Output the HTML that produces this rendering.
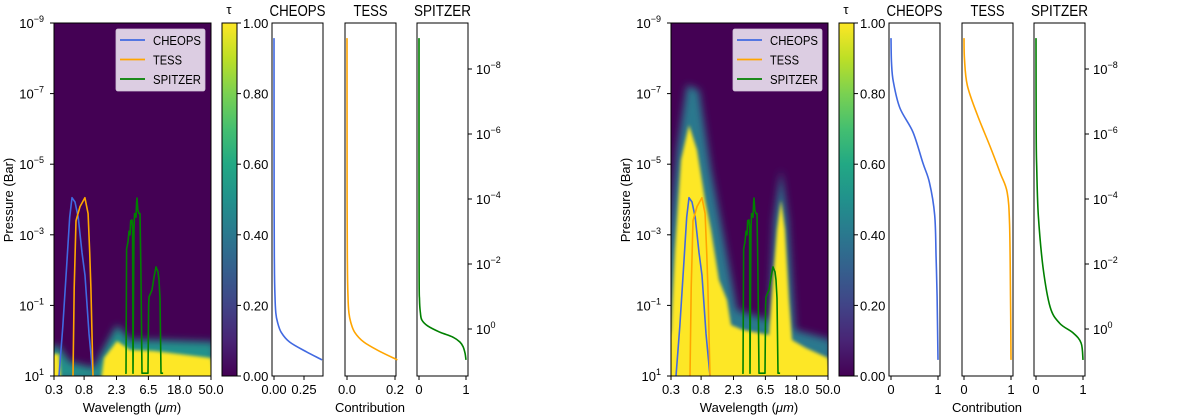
<!DOCTYPE html>
<html><head><meta charset="utf-8"><style>
body{margin:0;background:#fff;}
svg{display:block;font-family:"Liberation Sans","DejaVu Sans",sans-serif;}
</style></head><body>
<svg id="fig" width="1200" height="420" viewBox="0 0 1200 420" xmlns="http://www.w3.org/2000/svg">
<defs>
<linearGradient id="viridis" x1="0" y1="1" x2="0" y2="0">
<stop offset="0" stop-color="#440154"/><stop offset="0.1" stop-color="#482475"/><stop offset="0.2" stop-color="#414487"/><stop offset="0.3" stop-color="#355f8d"/><stop offset="0.4" stop-color="#2a788e"/><stop offset="0.5" stop-color="#21918c"/><stop offset="0.6" stop-color="#22a884"/><stop offset="0.7" stop-color="#44bf70"/><stop offset="0.8" stop-color="#7ad151"/><stop offset="0.9" stop-color="#bddf26"/><stop offset="1" stop-color="#fde725"/>
</linearGradient>
<filter id="blur4" x="-20%" y="-20%" width="140%" height="140%"><feGaussianBlur stdDeviation="4"/></filter>
<filter id="blur2" x="-20%" y="-20%" width="140%" height="140%"><feGaussianBlur stdDeviation="1.5"/></filter>
<clipPath id="clipL"><rect x="54" y="23" width="157" height="353"/></clipPath>
<clipPath id="clipR"><rect x="671" y="23" width="157" height="353"/></clipPath>
</defs>
</svg>
<script>
// ---- filter transmission curves (wavelength in micron, plotted value as log10 pressure) ----
const cheopsWl = [0.353,0.40,0.45,0.50,0.54,0.594,0.66,0.746,0.825,0.94,1.07];
const cheopsLogP = [1.0,-0.4,-2.0,-3.5,-4.05,-3.93,-3.5,-2.5,-1.85,-0.2,1.0];
const tessWl = [0.557,0.58,0.614,0.70,0.82,0.91,0.96,1.0,1.07];
const tessLogP = [1.0,-1.5,-3.4,-3.8,-4.05,-3.6,-2.5,-1.5,1.0];
const spitzerWl = [3.05,3.13,3.20,3.34,3.45,3.57,3.65,3.81,3.88,3.94,4.07,4.15,4.34,4.42,4.48,4.60,4.79,4.94,5.10,5.28,5.5,6.42,6.55,6.63,7.0,7.31,7.8,8.33,8.89,9.18,9.5,9.8,10.5];
const spitzerLogP = [0.92,0.92,-2.6,-2.8,-3.1,-3.0,-3.4,-3.42,-3.2,0.92,-3.2,-3.6,-3.5,-3.9,-4.04,-3.7,-3.6,-3.6,-2.0,0.92,0.92,0.92,-1.0,-1.24,-1.35,-1.44,-1.8,-2.09,-1.95,-1.72,-1.2,0.92,0.92];
// ---- contribution functions (value, log10 pressure) ----
const contribLogP_L_cheops = [-8.95,-4,-2,-1,-0.5,-0.2,0.1,0.4,0.7,0.95];
const contribVal_L_cheops = [0,0.001,0.003,0.008,0.015,0.03,0.06,0.13,0.27,0.40];
const contribLogP_L_tess = [-8.95,-4,-2,-1,-0.5,-0.2,0.1,0.4,0.7,0.95];
const contribVal_L_tess = [0,0.0005,0.0015,0.004,0.008,0.016,0.032,0.07,0.14,0.21];
const contribLogP_L_spitzer = [-8.95,-2,-0.9,-0.5,-0.28,-0.1,0.1,0.25,0.4,0.55,0.75,0.95];
const contribVal_L_spitzer = [0,0.002,0.01,0.03,0.06,0.18,0.45,0.72,0.87,0.94,0.98,1.0];
const contribLogP_R_cheops = [-8.95,-8.2,-7.6,-6.8,-6.05,-5.1,-4.5,-3.5,-2.2,-1,0.95];
const contribVal_R_cheops = [0,0.01,0.05,0.19,0.47,0.68,0.82,0.93,0.96,0.98,1.0];
const contribLogP_R_tess = [-8.95,-8.3,-7.5,-6.6,-5.6,-4.8,-4.2,-3.2,-1,0.95];
const contribVal_R_tess = [0,0.01,0.07,0.28,0.56,0.77,0.92,0.97,0.99,1.0];
const contribLogP_R_spitzer = [-8.95,-6,-5,-3.5,-1.9,-0.68,-0.18,0.12,0.43,0.95];
const contribVal_R_spitzer = [0,0.005,0.014,0.05,0.15,0.3,0.5,0.79,0.96,1.0];
// ---- tick labels ----
const wlTicks = ["0.3","0.8","2.3","6.5","18.0","50.0"];
const pTickExp = ["-9","-7","-5","-3","-1","1"];
const cbTicks = ["0.00","0.20","0.40","0.60","0.80","1.00"];
const rightTickExp = ["-8","-6","-4","-2","0"];

const NS="http://www.w3.org/2000/svg";
const svg=document.getElementById('fig');
function mk(tag,attrs,parent){const e=document.createElementNS(NS,tag);for(const k in attrs)e.setAttribute(k,attrs[k]);(parent||svg).appendChild(e);return e;}
const HT=23,HB=376;
function yHeat(lp){return HT+(lp+9)/10*(HB-HT);}
function xHeat(off,wl){return off+54+(Math.log10(wl)-Math.log10(0.3))/(Math.log10(50)-Math.log10(0.3))*157;}
function yRight(lp){return 329+lp*32.5;}
function sup(parent,x,y,exp,anchor){
  const t=mk('text',{x:x,y:y,'font-size':13,'text-anchor':anchor,fill:'#000'},parent);
  t.appendChild(document.createTextNode('10'));
  const s=mk('tspan',{'font-size':9,dy:-6},t);s.textContent=exp.replace('-','\u2212');
  return t;
}
function line(g,xs,ys,color,name){
  const p=mk('polyline',{points:xs.map((x,i)=>x.toFixed(1)+','+ys[i].toFixed(1)).join(' '),fill:'none',stroke:color,'stroke-width':1.6,'stroke-linejoin':'round'},g);
  
  
  return p;
}
function smooth(g,xs,ys,color,name){
  let d='M'+xs[0].toFixed(1)+','+ys[0].toFixed(1);
  for(let i=0;i<xs.length-1;i++){
    const x0=xs[Math.max(i-1,0)],y0=ys[Math.max(i-1,0)],x1=xs[i],y1=ys[i],x2=xs[i+1],y2=ys[i+1],x3=xs[Math.min(i+2,xs.length-1)],y3=ys[Math.min(i+2,xs.length-1)];
    const c1x=x1+(x2-x0)/6,c1y=y1+(y2-y0)/6,c2x=x2-(x3-x1)/6,c2y=y2-(y3-y1)/6;
    d+=` C${c1x.toFixed(1)},${c1y.toFixed(1)} ${c2x.toFixed(1)},${c2y.toFixed(1)} ${x2.toFixed(1)},${y2.toFixed(1)}`;
  }
  const p=mk('path',{d:d,fill:'none',stroke:color,'stroke-width':1.6},g);
  
  
  return p;
}
function poly(h,pts){return pts.map(p=>(h+p[0])+','+p[1]).join(' ');}

function panel(side,off,contribs){
  const g=mk('g',{});
  
  
  const hm=mk('g',{'clip-path':'url(#clip'+(side==='left'?'L':'R')+')'},g);
  
  
  mk('rect',{x:off+54,y:23,width:157,height:353,fill:'#440154'},hm);
  const h=off+54;
  if(side==='left'){
    mk('polygon',{points:poly(h,[[-5,348],[4,345],[16,362],[40,368],[49,350],[63,325],[76,340],[100,340],[161,342],[161,380],[-5,380]]),fill:'#21918c',filter:'url(#blur4)'},hm);
    mk('polygon',{points:poly(h,[[-5,354],[5,354],[7,380],[-5,380]]),fill:'#fde725',filter:'url(#blur2)'},hm);
    mk('polygon',{points:poly(h,[[47,380],[50,358],[63,341],[76,350],[100,351],[157,358],[161,380]]),fill:'#fde725',filter:'url(#blur2)'},hm);
  } else {
    mk('polygon',{points:poly(h,[[-4,260],[6,150],[16,85],[28,90],[40,170],[55,250],[66,310],[98,320],[103,220],[110,170],[117,220],[124,330],[161,340],[161,380],[-4,380]]),fill:'#2a788e',filter:'url(#blur4)'},hm);
    mk('polygon',{points:poly(h,[[-4,345],[0,330],[4,250],[10,160],[18,125],[26,150],[34,200],[40,230],[48,280],[56,300],[60,325],[72,330],[98,335],[102,280],[106,230],[110,200],[114,230],[118,300],[121,340],[135,348],[157,358],[161,380],[-4,380]]),fill:'#fde725',filter:'url(#blur2)'},hm);
  }
  line(hm,cheopsWl.map(w=>xHeat(off,w)),cheopsLogP.map(yHeat),'#4169e1',side+'-cheops-band');
  line(hm,tessWl.map(w=>xHeat(off,w)),tessLogP.map(yHeat),'#ffa500',side+'-tess-band');
  line(hm,spitzerWl.map(w=>xHeat(off,w)),spitzerLogP.map(yHeat),'#008000',side+'-spitzer-band');
  mk('rect',{x:off+54,y:23,width:157,height:353,fill:'none',stroke:'#000','stroke-width':1},g);
  pTickExp.forEach((e,i)=>{const y=yHeat(+e);mk('line',{x1:off+50,x2:off+54,y1:y,y2:y,stroke:'#000'},g);
    const t=sup(g,off+44,y+5,e,'end');});
  wlTicks.forEach((l,i)=>{const x=xHeat(off,+l);mk('line',{x1:x,x2:x,y1:376,y2:380,stroke:'#000'},g);
    const t=mk('text',{x:x,y:394,'font-size':13,'text-anchor':'middle'},g);t.textContent=l;
    });
  const xl=mk('text',{x:off+132,y:412,'font-size':13,'text-anchor':'middle'},g);xl.innerHTML='Wavelength (<tspan font-style="italic">\u03bcm</tspan>)';
  
  const yl=mk('text',{x:0,y:0,'font-size':13,'text-anchor':'middle',transform:`translate(${off+13},200) rotate(-90)`},g);yl.textContent='Pressure (Bar)';
  
  const lg=mk('g',{},g);
  
  mk('rect',{x:off+116,y:29,width:89,height:62,fill:'#dccde2',stroke:'#cfc0d6','stroke-width':0.8,rx:2},lg);
  [['CHEOPS','#4169e1'],['TESS','#ffa500'],['SPITZER','#008000']].forEach((d,i)=>{
    const y=40+i*19.5;
    const le=mk('g',{},lg);
    
    
    mk('line',{x1:off+120,x2:off+145,y1:y,y2:y,stroke:d[1],'stroke-width':1.8},le);
    const t=mk('text',{x:off+153,y:y+5,'font-size':13,textLength:[48,29,48][i],lengthAdjust:'spacingAndGlyphs'},le);t.textContent=d[0];
  });
  const cb=mk('g',{},g);
  
  mk('rect',{x:off+222,y:23,width:15,height:353,fill:'url(#viridis)',stroke:'#000','stroke-width':1},cb);
  cbTicks.forEach((l,i)=>{const y=376-(+l)*353;mk('line',{x1:off+237,x2:off+241,y1:y,y2:y,stroke:'#000'},cb);
    const t=mk('text',{x:off+243,y:y+5,'font-size':13},cb);t.textContent=l;});
  const tau=mk('text',{x:off+229,y:14,'font-size':13,'text-anchor':'middle'},cb);tau.textContent='\u03c4';
  contribs.forEach((c,ci)=>{
    const px=off+[272,345,417][ci];
    const cg=mk('g',{},g);
    
    
    mk('rect',{x:px,y:23,width:51,height:353,fill:'#fff',stroke:'#000','stroke-width':1},cg);
    const xs=c.val.map(v=>px+2+v*c.scale);
    smooth(cg,xs,c.lp.map(yRight),c.color,side+'-'+c.name.toLowerCase()+'-contribution-line');
    c.ticks.forEach(tk=>{const x=px+2+(+tk)*c.scale;mk('line',{x1:x,x2:x,y1:376,y2:380,stroke:'#000'},cg);
      const t=mk('text',{x:x,y:394,'font-size':13,'text-anchor':'middle'},cg);t.textContent=tk;});
    const tw={CHEOPS:56,TESS:34,SPITZER:57}[c.name];
    const tt=mk('text',{x:px+25.5,y:16,'font-size':16,'text-anchor':'middle',textLength:tw,lengthAdjust:'spacingAndGlyphs'},cg);tt.textContent=c.name;
    
  });
  const ct=mk('text',{x:off+370,y:412,'font-size':13,'text-anchor':'middle'},g);ct.textContent='Contribution';
  
  rightTickExp.forEach(e=>{const y=yRight(+e);mk('line',{x1:off+468,x2:off+472,y1:y,y2:y,stroke:'#000'},g);
    const t=sup(g,off+476,y+5,e,'start');});
}
panel('left',0,[
 {name:'CHEOPS',color:'#4169e1',val:contribVal_L_cheops,lp:contribLogP_L_cheops,scale:120,ticks:['0.00','0.25']},
 {name:'TESS',color:'#ffa500',val:contribVal_L_tess,lp:contribLogP_L_tess,scale:240,ticks:['0.0','0.2']},
 {name:'SPITZER',color:'#008000',val:contribVal_L_spitzer,lp:contribLogP_L_spitzer,scale:47,ticks:['0','1']}]);
panel('right',617,[
 {name:'CHEOPS',color:'#4169e1',val:contribVal_R_cheops,lp:contribLogP_R_cheops,scale:47,ticks:['0','1']},
 {name:'TESS',color:'#ffa500',val:contribVal_R_tess,lp:contribLogP_R_tess,scale:47,ticks:['0','1']},
 {name:'SPITZER',color:'#008000',val:contribVal_R_spitzer,lp:contribLogP_R_spitzer,scale:47,ticks:['0','1']}]);
</script>
</body></html>
